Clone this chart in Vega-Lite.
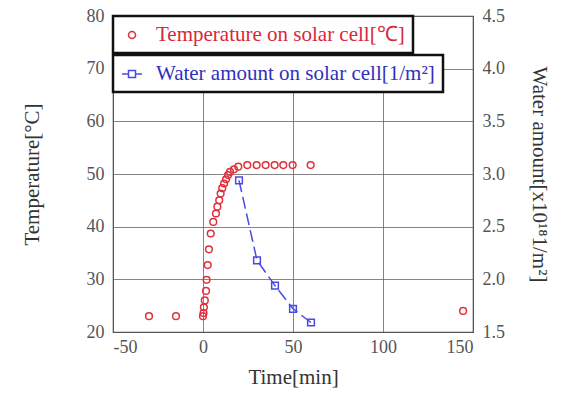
{
  "$schema": "https://vega.github.io/schema/vega-lite/v6.json",
  "autosize": "none",
  "width": 360,
  "height": 316,
  "padding": {"left": 113, "top": 16, "right": 98, "bottom": 62},
  "background": "white",
  "config": {
    "view": {"stroke": "#555", "strokeWidth": 1.2},
    "font": "Liberation Serif",
    "axis": {
      "labelFont": "Liberation Serif",
      "titleFont": "Liberation Serif",
      "labelFontSize": 18,
      "titleFontSize": 21,
      "labelColor": "#555",
      "titleColor": "#333",
      "titleFontWeight": "normal",
      "gridColor": "#666",
      "gridOpacity": 1,
      "gridWidth": 0.8,
      "domainColor": "#555",
      "ticks": false
    },
    "legend": {
      "labelFont": "Liberation Serif",
      "labelFontSize": 21,
      "labelLimit": 0,
      "orient": "none",
      "strokeColor": "#111",
      "strokeWidth": 2.5,
      "fillColor": "white",
      "padding": 8,
      "symbolSize": 400,
      "symbolStrokeWidth": 1.5,
      "labelOffset": 13
    }
  },
  "datasets": {
    "temp": [
      {"time": -30, "temp": 23},
      {"time": -15, "temp": 23},
      {"time": 0, "temp": 23},
      {"time": 0.3, "temp": 23.6},
      {"time": 0.5, "temp": 24.7},
      {"time": 1, "temp": 26},
      {"time": 1.7, "temp": 27.8},
      {"time": 2, "temp": 29.9},
      {"time": 2.6, "temp": 32.7},
      {"time": 3.3, "temp": 35.7},
      {"time": 4.3, "temp": 38.7},
      {"time": 5.7, "temp": 40.9},
      {"time": 7.2, "temp": 42.5},
      {"time": 8, "temp": 43.8},
      {"time": 9, "temp": 45},
      {"time": 9.8, "temp": 46.3},
      {"time": 10.7, "temp": 47.3},
      {"time": 11.7, "temp": 48.2},
      {"time": 12.8, "temp": 49},
      {"time": 13.9, "temp": 49.8},
      {"time": 15, "temp": 50.4},
      {"time": 17.2, "temp": 50.9},
      {"time": 19.6, "temp": 51.4},
      {"time": 24.6, "temp": 51.7},
      {"time": 29.8, "temp": 51.7},
      {"time": 34.8, "temp": 51.7},
      {"time": 39.8, "temp": 51.7},
      {"time": 44.6, "temp": 51.7},
      {"time": 49.8, "temp": 51.7},
      {"time": 59.8, "temp": 51.7},
      {"time": 144.5, "temp": 24}
    ],
    "water": [
      {"time": 20, "water": 2.94},
      {"time": 30, "water": 2.18},
      {"time": 40, "water": 1.94},
      {"time": 50, "water": 1.72},
      {"time": 60, "water": 1.59}
    ]
  },
  "layer": [
    {
      "data": {"name": "temp"},
      "mark": {"type": "point", "filled": false, "size": 45, "strokeWidth": 1.5, "opacity": 1},
      "encoding": {
        "x": {
          "field": "time", "type": "quantitative",
          "scale": {"domain": [-50, 150], "nice": false, "zero": false},
          "axis": {"values": [-50, 0, 50, 100, 150], "labelExpr": "replace(datum.label, '−', '-')", "title": "Time[min]", "titlePadding": 10, "labelPadding": 6}
        },
        "y": {
          "field": "temp", "type": "quantitative",
          "scale": {"domain": [20, 80], "nice": false, "zero": false},
          "axis": {"values": [20, 30, 40, 50, 60, 70, 80], "title": "Temperature[°C]", "titlePadding": 44, "labelPadding": 9}
        },
        "color": {
          "datum": "Temperature on solar cell[℃]",
          "type": "nominal",
          "scale": {"range": ["#e0303c"]},
          "legend": {
            "title": null,
            "legendX": 0, "legendY": 0,
            "labelColor": "#d8283a",
            "symbolType": "M-0.35,0A0.35,0.35 0 1,0 0.35,0A0.35,0.35 0 1,0 -0.35,0Z"
          }
        }
      }
    },
    {
      "data": {"name": "water"},
      "encoding": {
        "x": {"field": "time", "type": "quantitative"},
        "y": {
          "field": "water", "type": "quantitative",
          "scale": {"domain": [1.5, 4.5], "nice": false, "zero": false},
          "axis": {"orient": "right", "values": [1.5, 2, 2.5, 3, 3.5, 4, 4.5], "format": ".1f", "grid": false, "title": "Water amount[x10¹⁸1/m²]", "titlePadding": 24, "labelPadding": 9}
        },
        "color": {
          "datum": "Water amount on solar cell[1/m²]",
          "type": "nominal",
          "scale": {"range": ["#4a4ae0"]},
          "legend": {
            "title": null,
            "legendX": 0, "legendY": 39,
            "labelColor": "#3030c0",
            "symbolType": "M-1,0H-0.35M0.35,0H1M-0.35,-0.35H0.35V0.35H-0.35Z"
          }
        }
      },
      "layer": [
        {"mark": {"type": "line", "strokeDash": [12, 5], "strokeWidth": 1.5}},
        {"mark": {"type": "point", "shape": "square", "filled": false, "size": 45, "strokeWidth": 1.5, "opacity": 1}}
      ]
    }
  ],
  "resolve": {"scale": {"y": "independent", "color": "independent"}}
}
